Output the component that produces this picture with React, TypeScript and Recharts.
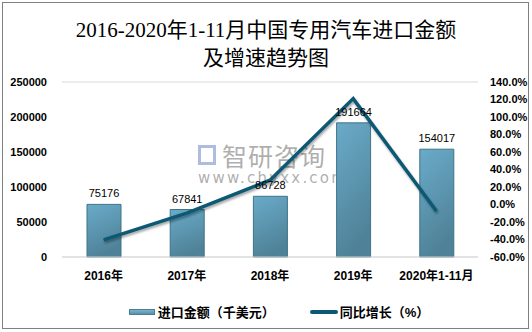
import React from "react";
import {
  ComposedChart,
  Bar,
  Line,
  XAxis,
  YAxis,
  CartesianGrid,
  LabelList,
} from "recharts";

const categories = ["2016年", "2017年", "2018年", "2019年", "2020年1-11月"];
const importValues = [75176, 67841, 86728, 191664, 154017];
const growthRates = [-40.5, -9.8, 27.8, 121.0, -7.5];
const leftTicks = [0, 50000, 100000, 150000, 200000, 250000];
const rightTicks = [-60, -40, -20, 0, 20, 40, 60, 80, 100, 120, 140];
const seriesNames = ["进口金额（千美元）", "同比增长（%）"];
const titleLines = ["2016-2020年1-11月中国专用汽车进口金额", "及增速趋势图"];

const data = categories.map((c, i) => ({
  name: c,
  value: importValues[i],
  rate: growthRates[i],
}));

const FONT = "'Liberation Sans', 'Noto Sans CJK SC', sans-serif";

const LegendContent = () => (
  <div
    style={{
      display: "flex",
      justifyContent: "center",
      alignItems: "center",
      gap: 35,
      fontFamily: FONT,
      fontSize: 13,
      fontWeight: "bold",
      color: "#000",
      paddingLeft: 26,
    }}
  >
    <div style={{ display: "flex", alignItems: "center" }}>
      <div
        style={{
          width: 26,
          height: 6,
          background: "linear-gradient(#79b3cf, #5b8fa6)",
          border: "1px solid #4b7f96",
          boxSizing: "border-box",
          marginRight: 3,
        }}
      />
      <span>{seriesNames[0]}</span>
    </div>
    <div style={{ display: "flex", alignItems: "center" }}>
      <div
        style={{
          width: 28,
          height: 4,
          borderRadius: 2,
          background: "#0d5872",
          marginRight: 2,
        }}
      />
      <span>{seriesNames[1]}</span>
    </div>
  </div>
);

export default function App() {
  return (
    <div
      style={{
        position: "absolute",
        left: 0,
        top: 0,
        width: 532,
        height: 332,
        background: "#fff",
      }}
    >
      <div
        style={{
          position: "absolute",
          left: 2,
          top: 2,
          width: 527,
          height: 327,
          border: "1px solid #808080",
          boxSizing: "border-box",
        }}
      />
      <div
        style={{
          position: "absolute",
          left: 0,
          top: 16,
          width: 532,
          textAlign: "center",
          fontFamily: "'Liberation Serif', 'Noto Sans CJK SC', serif",
          fontSize: 21,
          lineHeight: "28px",
          color: "#000",
        }}
      >
        <div>{titleLines[0]}</div>
        <div>{titleLines[1]}</div>
      </div>
      {/* watermark */}
      <div
        style={{
          position: "absolute",
          left: 198,
          top: 143,
          width: 140,
          fontFamily: "'Noto Sans CJK SC', sans-serif",
          color: "rgba(120,120,120,0.6)",
          pointerEvents: "none",
        }}
      >
        <div style={{ display: "flex", alignItems: "center", height: 24 }}>
          <div
            style={{
              width: 18,
              height: 20,
              border: "3px solid rgba(140,160,210,0.7)",
              boxSizing: "border-box",
              marginRight: 6,
            }}
          />
          <span style={{ fontSize: 25, lineHeight: "24px", letterSpacing: 1 }}>
            智研咨询
          </span>
        </div>
        <div
          style={{
            fontFamily: "'DejaVu Sans', sans-serif",
            fontSize: 15,
            letterSpacing: 2.2,
            marginTop: 2,
          }}
        >
          www.chyxx.com
        </div>
      </div>
      <div style={{ position: "absolute", left: 0, top: 0 }}>
        <ComposedChart
          width={532}
          height={332}
          data={data}
          margin={{ top: 82, right: 0, bottom: 45, left: 0 }}
        >
          <defs>
            <linearGradient id="barGrad" x1="0" y1="0" x2="0.3" y2="1">
              <stop offset="0%" stopColor="#6aabc9" />
              <stop offset="100%" stopColor="#4f8298" />
            </linearGradient>
            <filter id="lineShadow" x="-10%" y="-10%" width="120%" height="130%">
              <feDropShadow dx="1" dy="2" stdDeviation="1.2" floodColor="#000" floodOpacity="0.35" />
            </filter>
          </defs>
          <CartesianGrid vertical={false} stroke="#d9d9d9" />
          <XAxis
            dataKey="name"
            tickLine={false}
            axisLine={{ stroke: "#d9d9d9" }}
            tickMargin={8}
            height={30}
            tick={{ fontSize: 12, fontWeight: "bold", fill: "#000", fontFamily: FONT }}
            interval={0}
          />
          <YAxis
            yAxisId="left"
            domain={[0, 250000]}
            ticks={leftTicks}
            interval={0}
            width={62}
            tickLine={false}
            axisLine={false}
            tickMargin={9}
            tick={{ fontSize: 11, fontWeight: "bold", fill: "#000", fontFamily: FONT }}
          />
          <YAxis
            yAxisId="right"
            orientation="right"
            domain={[-60, 140]}
            ticks={rightTicks}
            interval={0}
            width={54}
            tickLine={false}
            axisLine={false}
            tickMargin={6}
            tickFormatter={(v: number) => `${v.toFixed(1)}%`}
            tick={{ fontSize: 11, fontWeight: "bold", fill: "#000", fontFamily: FONT }}
          />
          <Bar
            yAxisId="left"
            dataKey="value"
            name={seriesNames[0]}
            barSize={34}
            fill="url(#barGrad)"
            stroke="#3f7389"
            strokeWidth={1}
            isAnimationActive={false}
          >
            <LabelList
              dataKey="value"
              position="top"
              offset={7}
              style={{ fontSize: 11, fill: "#000", fontFamily: FONT }}
            />
          </Bar>
          <Line
            yAxisId="right"
            dataKey="rate"
            name={seriesNames[1]}
            type="linear"
            stroke="#0d5872"
            strokeWidth={3.5}
            dot={false}
            activeDot={false}
            filter="url(#lineShadow)"
            isAnimationActive={false}
          />
        </ComposedChart>
      </div>
      <div style={{ position: "absolute", left: 0, top: 302, width: 532 }}>
        <LegendContent />
      </div>
    </div>
  );
}
